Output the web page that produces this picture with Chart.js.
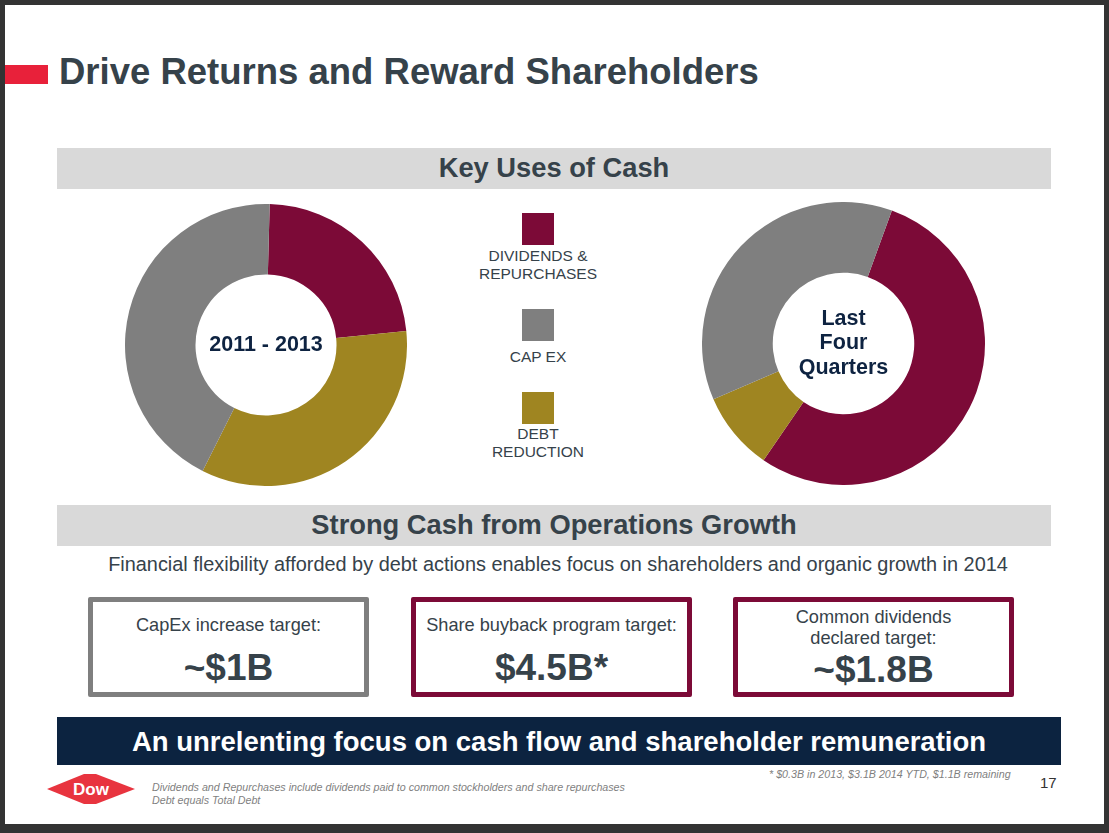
<!DOCTYPE html>
<html>
<head>
<meta charset="utf-8">
<script src="https://cdn.jsdelivr.net/npm/chart.js@4.4.1/dist/chart.umd.min.js"></script>
<style>
  html, body { margin: 0; padding: 0; }
  body { width: 1109px; height: 833px; background: #333333; position: relative; overflow: hidden;
         font-family: "Liberation Sans", Arial, sans-serif; color: #36424a; }
  .slide { position: absolute; left: 5px; top: 5px; width: 1099px; height: 819px; background: #fff; }
  .abs { position: absolute; }
  .redbar { left: 5px; top: 65px; width: 43px; height: 19px; background: #e8213a; }
  .title { left: 59px; top: 51px; font-size: 36.5px; font-weight: bold; white-space: nowrap; }
  .band { left: 57px; width: 994px; height: 41px; background: #d9d9d9; text-align: center;
          font-size: 27.3px; font-weight: bold; line-height: 40px; }
  .legend-sq { width: 32px; height: 32px; left: 522px; }
  .legend-tx { left: 448px; width: 180px; text-align: center; font-size: 15.5px; line-height: 18px; }
  .sub { left: 57px; width: 1002px; top: 553px; text-align: center; font-size: 19.9px; }
  .box { top: 597px; width: 271px; height: 90px; border: 5px solid; border-radius: 2px; text-align: center; }
  .box .lbl { font-size: 18.2px; line-height: 21px; }
  .box .big { font-size: 37px; font-weight: bold; }
  .navy { left: 57px; top: 717px; width: 1004px; height: 48px; background: #0c2340; color: #fff;
          text-align: center; font-size: 27.5px; font-weight: bold; line-height: 49px; }
  .foot { font-size: 10.7px; font-style: italic; color: #7f7f7f; line-height: 13px; white-space: nowrap; }
  canvas { position: absolute; }
</style>
</head>
<body>
<div class="slide"></div>
<div class="abs redbar"></div>
<div class="abs title">Drive Returns and Reward Shareholders</div>

<div class="abs band" style="top:148px">Key Uses of Cash</div>

<canvas id="leftChart" width="282" height="282" style="left:125px; top:204px"></canvas>
<canvas id="rightChart" width="283" height="283" style="left:702px; top:202px"></canvas>
<div id="legend"></div>

<div class="abs band" style="top:505px">Strong Cash from Operations Growth</div>
<div class="abs sub">Financial flexibility afforded by debt actions enables focus on shareholders and organic growth in 2014</div>

<div class="abs box" style="left:88px; border-color:#7f7f7f">
  <div class="lbl" style="margin-top:13px">CapEx increase target:</div>
  <div class="big" style="margin-top:11px">~$1B</div>
</div>
<div class="abs box" style="left:411px; border-color:#7c0a37">
  <div class="lbl" style="margin-top:13px">Share buyback program target:</div>
  <div class="big" style="margin-top:11px">$4.5B*</div>
</div>
<div class="abs box" style="left:733px; border-color:#7c0a37">
  <div class="lbl" style="margin-top:5px">Common dividends<br>declared target:</div>
  <div class="big" style="margin-top:0px">~$1.8B</div>
</div>

<div class="abs navy">An unrelenting focus on cash flow and shareholder remuneration</div>

<svg class="abs" style="left:40px; top:770px" width="105" height="40">
  <polygon points="7,19 44,4 56,4 95,19 56,34 44,34" fill="#e8343f"/>
  <text x="51" y="25" text-anchor="middle" font-family="Liberation Sans, Arial" font-weight="bold" font-size="17" fill="#fff">Dow</text>
</svg>
<div class="abs foot" style="left:152px; top:781px">Dividends and Repurchases include dividends paid to common stockholders and share repurchases<br>Debt equals Total Debt</div>
<div class="abs foot" style="left:769px; top:768px">* $0.3B in 2013, $3.1B 2014 YTD, $1.1B remaining</div>
<div class="abs" style="left:1040px; top:774px; font-size:15px; color:#333">17</div>

<script>
// segment order runs clockwise from the top of each ring
const categories = ['DIVIDENDS & REPURCHASES', 'DEBT REDUCTION', 'CAP EX'];
const legendLines = [['DIVIDENDS &', 'REPURCHASES'], ['DEBT', 'REDUCTION'], ['CAP EX']];
const legendOrder = [0, 2, 1];
const values2011to2013 = [23, 34, 43];
const valuesLastFourQuarters = [54, 9, 37];
const centerLeft = ['2011 - 2013'];
const centerRight = ['Last', 'Four', 'Quarters'];

const segColors = ['#7c0a37', '#9f8521', '#7f7f7f'];

// text in the hole of the ring
const centerText = {
    id: 'centerText',
    afterDraw(chart, args, opts) {
        const ctx = chart.ctx;
        const meta = chart.getDatasetMeta(0).data[0];
        const lines = opts.lines || [];
        ctx.save();
        ctx.font = 'bold 21.5px "Liberation Sans", Arial, sans-serif';
        ctx.fillStyle = '#0e2341';
        ctx.textAlign = 'center';
        ctx.textBaseline = 'middle';
        const lh = 24.5;
        const y0 = meta.y - (lines.length - 1) * lh / 2;
        lines.forEach((t, i) => ctx.fillText(t, meta.x, y0 + i * lh));
        ctx.restore();
    }
};

function makeDonut(id, values, rotation, lines) {
    const ctx = document.getElementById(id).getContext('2d');
    return new Chart(ctx, {
        type: 'doughnut',
        data: {
            labels: categories,
            datasets: [{
                data: values,
                backgroundColor: segColors,
                borderWidth: 0
            }]
        },
        options: {
            responsive: false,
            animation: false,
            cutout: '50%',
            rotation: rotation,
            layout: { padding: 0 },
            plugins: {
                legend: { display: false },
                tooltip: { enabled: false },
                centerText: { lines: lines }
            }
        },
        plugins: [centerText]
    });
}

makeDonut('leftChart', values2011to2013, 1.5, centerLeft);
makeDonut('rightChart', valuesLastFourQuarters, 20, centerRight);

// legend between the two rings
const sqTops = [213, 309, 392];
const txTops = [247, 348, 425];
const legend = document.getElementById('legend');
legendOrder.forEach((idx, i) => {
    const sq = document.createElement('div');
    sq.className = 'abs legend-sq';
    sq.style.top = sqTops[i] + 'px';
    sq.style.background = segColors[idx];
    legend.appendChild(sq);
    const tx = document.createElement('div');
    tx.className = 'abs legend-tx';
    tx.style.top = txTops[i] + 'px';
    tx.innerHTML = legendLines[idx].join('<br>');
    legend.appendChild(tx);
});
</script>
</body>
</html>
